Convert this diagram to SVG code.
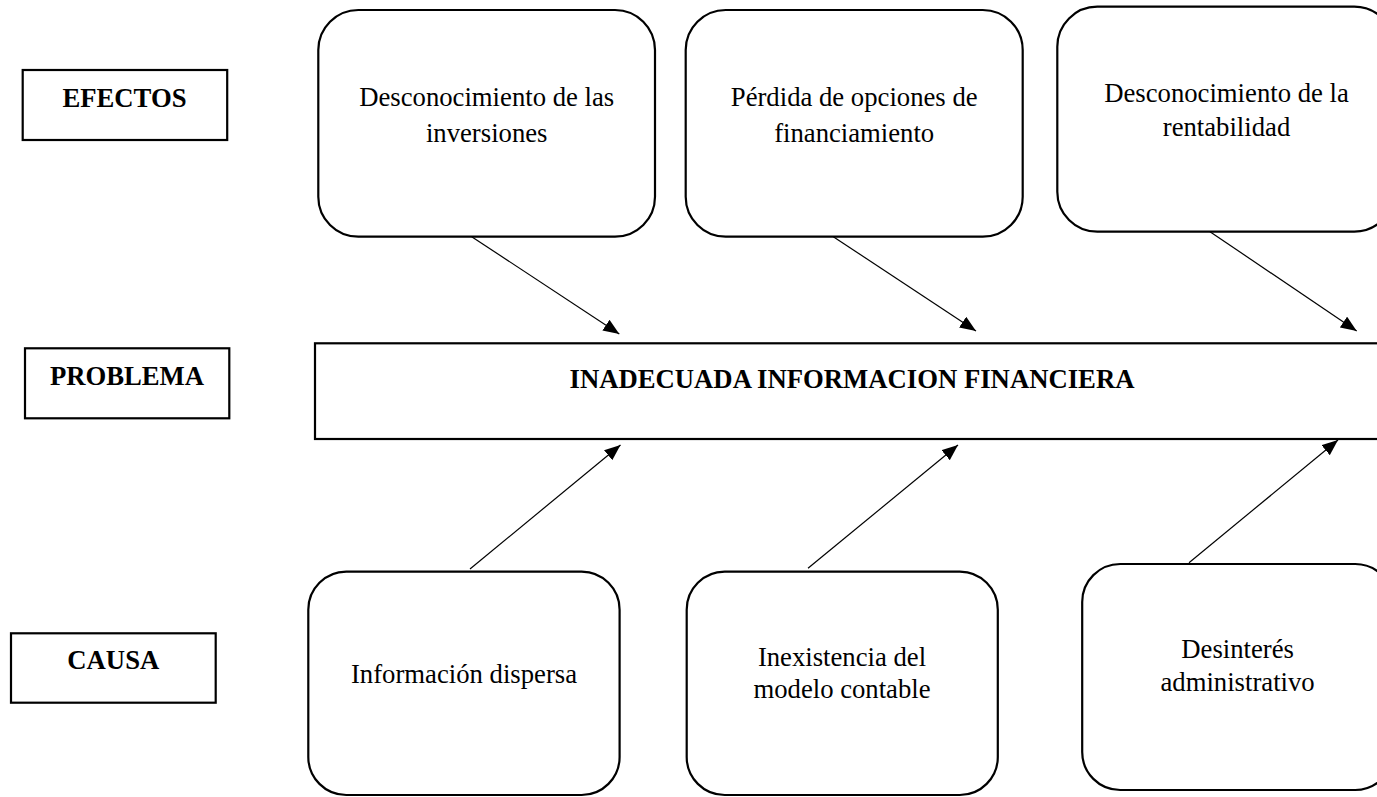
<svg xmlns="http://www.w3.org/2000/svg" width="1377" height="797" viewBox="0 0 1377 797">
<style>
.lbl{fill:#fff;stroke:#000;stroke-width:2.2}
.box{fill:#fff;stroke:#000;stroke-width:2.2}
.t{font-family:"Liberation Serif","Times New Roman",serif;font-size:26.7px;fill:#000;text-anchor:middle}
.b{font-weight:bold}
.c{stroke:#000;stroke-width:1.2;fill:none;marker-end:url(#ah)}
</style>
<defs>
<marker id="ah" markerUnits="userSpaceOnUse" markerWidth="17" markerHeight="14" refX="16" refY="6.5" orient="auto">
<path d="M0,0 L16,6.5 L0,13 z" fill="#000"/>
</marker>
</defs>
<rect width="1377" height="797" fill="#fff"/>
<g id="efectos">
<rect class="lbl" x="22.7" y="70" width="204.5" height="70"/>
<text class="t b" x="124.5" y="106.5">EFECTOS</text>
</g>
<g id="problema-label">
<rect class="lbl" x="25" y="348.3" width="204.3" height="70"/>
<text class="t b" x="127" y="385">PROBLEMA</text>
</g>
<g id="causa">
<rect class="lbl" x="11" y="633.3" width="204.7" height="69.4"/>
<text class="t b" x="113.3" y="669.3">CAUSA</text>
</g>
<g id="efecto1">
<rect class="box" x="318.3" y="10" width="336.7" height="226.7" rx="40" ry="40"/>
<text class="t" x="486.7" y="106">Desconocimiento de las</text>
<text class="t" x="486.7" y="142">inversiones</text>
</g>
<g id="efecto2">
<rect class="box" x="685.7" y="10" width="337" height="226.7" rx="40" ry="40"/>
<text class="t" x="854.2" y="106">Pérdida de opciones de</text>
<text class="t" x="854.2" y="142">financiamiento</text>
</g>
<g id="efecto3">
<rect class="box" x="1057.3" y="6.7" width="337" height="225" rx="40" ry="40"/>
<text class="t" x="1226.5" y="101.5">Desconocimiento de la</text>
<text class="t" x="1226.5" y="136">rentabilidad</text>
</g>
<g id="problema">
<rect class="box" x="315" y="343.3" width="1070" height="95.7"/>
<text class="t b" x="852" y="388.3">INADECUADA INFORMACION FINANCIERA</text>
</g>
<g id="causa1">
<rect class="box" x="308.3" y="571.7" width="311.3" height="223.3" rx="38" ry="38"/>
<text class="t" x="464" y="682.7">Información dispersa</text>
</g>
<g id="causa2">
<rect class="box" x="686.7" y="571.7" width="311.1" height="223.3" rx="38" ry="38"/>
<text class="t" x="842" y="666">Inexistencia del</text>
<text class="t" x="842" y="698.3">modelo contable</text>
</g>
<g id="causa3">
<rect class="box" x="1082.2" y="564" width="311" height="226" rx="38" ry="38"/>
<text class="t" x="1237.6" y="658.3">Desinterés</text>
<text class="t" x="1237.6" y="690.7">administrativo</text>
</g>
<g id="connectors">
<line class="c" x1="471.7" y1="236.7" x2="619.3" y2="334"/>
<line class="c" x1="833.3" y1="236.7" x2="976" y2="331"/>
<line class="c" x1="1210" y1="231.7" x2="1356.7" y2="331"/>
<line class="c" x1="470" y1="569" x2="620.5" y2="445"/>
<line class="c" x1="808" y1="568.3" x2="958" y2="445"/>
<line class="c" x1="1189" y1="562.7" x2="1338" y2="440"/>
</g>
</svg>
